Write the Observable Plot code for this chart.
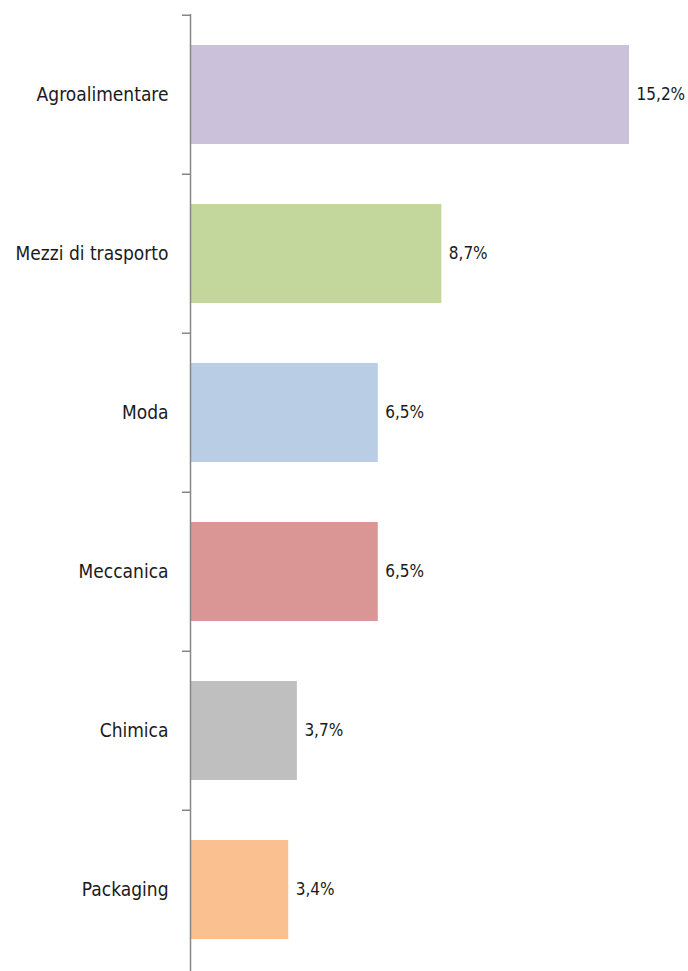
<!DOCTYPE html>
<html>
<head>
<meta charset="utf-8">
<script src="https://cdn.jsdelivr.net/npm/d3@7"></script>
<script src="https://cdn.jsdelivr.net/npm/@observablehq/plot@0.6"></script>
<style>
  html, body { margin: 0; padding: 0; background: #fff; }
  #chart svg { display: block; }
</style>
</head>
<body>
<div id="chart"></div>
<script>
const categories = ["Agroalimentare", "Mezzi di trasporto", "Moda", "Meccanica", "Chimica", "Packaging"];
const values = [15.2, 8.7, 6.5, 6.5, 3.7, 3.4];
const colors = ["#CCC1DA", "#C3D69B", "#B9CDE5", "#D99694", "#BFBFBF", "#FAC090"];

const data = categories.map((c, i) => ({category: c, value: values[i], color: colors[i]}));
const fmt = v => v.toFixed(1).replace(".", ",") + "%";

const font = "'DejaVu Sans Condensed', 'Liberation Sans Narrow', 'Open Sans', sans-serif";

const chart = Plot.plot({
  width: 688,
  height: 971,
  marginLeft: 190,
  marginRight: 0,
  marginTop: 14,
  marginBottom: 0,
  style: {fontFamily: font, fontSize: "19px", color: "#1a1a1a", background: "#fff"},
  x: {domain: [0, 17.24], axis: null},
  y: {domain: categories, paddingInner: 0.375, paddingOuter: 0.1875, label: null},
  marks: [
    Plot.barX(data, {y: "category", x: "value", fill: "color"}),
    Plot.ruleY(categories, {y: d => d, x1: -0.28, x2: 0, dy: -79.75, stroke: "#868686", strokeWidth: 1.5}),
    Plot.ruleX([0], {stroke: "#868686", strokeWidth: 1.5}),
    Plot.axisY({tickSize: 0, tickPadding: 22, fontSize: 19, fill: "#1a1a1a", label: null}),
    Plot.text(data, {y: "category", x: "value", text: d => fmt(d.value), textAnchor: "start", dx: 7, fontSize: 17, fill: "#1a1a1a"})
  ]
});
document.getElementById("chart").appendChild(chart);
</script>
</body>
</html>
